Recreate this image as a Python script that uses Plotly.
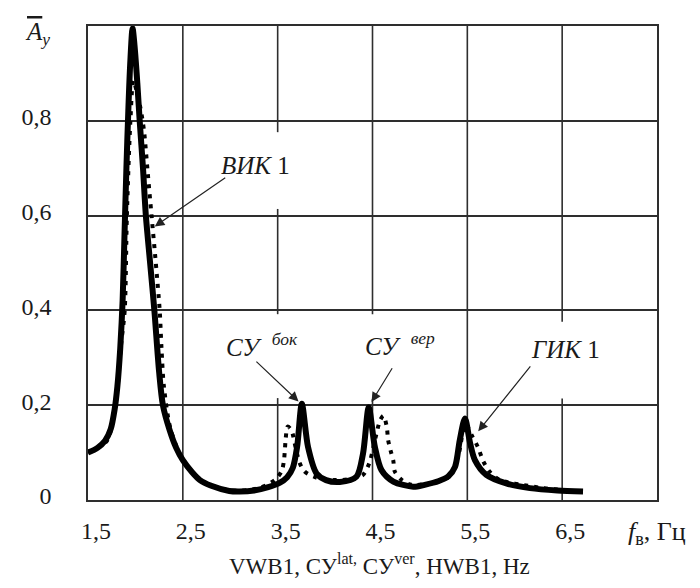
import plotly.graph_objects as go

# ---------------- data ----------------
solid_x = [1.50, 1.60, 1.68, 1.74, 1.78, 1.81, 1.84, 1.865, 1.885, 1.905, 1.925, 1.945, 1.97,
           1.99, 2.02, 2.045, 2.08, 2.11, 2.155, 2.20, 2.25, 2.29, 2.36, 2.43, 2.50, 2.60, 2.68,
           2.80, 2.99, 3.10, 3.25, 3.40, 3.52, 3.60, 3.66, 3.705, 3.755, 3.82, 3.91, 4.01, 4.155,
           4.33, 4.40, 4.46, 4.525, 4.595, 4.72, 4.93, 5.05, 5.20, 5.30, 5.37, 5.42, 5.475, 5.53,
           5.58, 5.70, 5.91, 6.16, 6.45, 6.72]
solid_y = [0.100, 0.110, 0.125, 0.150, 0.190, 0.240, 0.320, 0.420, 0.560, 0.700, 0.820, 0.920, 0.995,
           0.960, 0.880, 0.800, 0.700, 0.600, 0.500, 0.400, 0.270, 0.200, 0.148, 0.110, 0.084, 0.058, 0.042,
           0.030, 0.019, 0.018, 0.020, 0.027, 0.036, 0.048, 0.068, 0.112, 0.203, 0.112, 0.056, 0.042, 0.038,
           0.049, 0.098, 0.195, 0.112, 0.063, 0.039, 0.028, 0.032, 0.040, 0.050, 0.070, 0.126, 0.172, 0.119,
           0.084, 0.053, 0.035, 0.025, 0.020, 0.018]

dot_x = [1.50, 1.70, 1.80, 1.85, 1.887, 1.91, 1.947, 1.978, 2.01, 2.05, 2.09, 2.13, 2.17, 2.215,
         2.256, 2.275, 2.30, 2.37, 2.50, 2.70, 3.00, 3.30, 3.47, 3.54, 3.565, 3.575, 3.585, 3.605,
         3.645, 3.69, 3.73, 3.785, 3.90, 4.10, 4.30, 4.40, 4.47, 4.53, 4.58, 4.615, 4.65, 4.665,
         4.69, 4.72, 4.735, 4.81, 4.91, 5.10, 5.30, 5.40, 5.48, 5.55, 5.61, 5.67, 5.73, 5.81,
         5.93, 6.05, 6.30, 6.60]
dot_y = [0.100, 0.125, 0.220, 0.330, 0.400, 0.600, 0.800, 0.885, 0.865, 0.830, 0.780, 0.690, 0.600, 0.500,
         0.400, 0.320, 0.240, 0.150, 0.085, 0.040, 0.020, 0.025, 0.042, 0.060, 0.081, 0.103, 0.130, 0.155,
         0.147, 0.110, 0.079, 0.060, 0.048, 0.042, 0.045, 0.053, 0.080, 0.130, 0.168, 0.178, 0.155, 0.126,
         0.105, 0.082, 0.060, 0.042, 0.032, 0.035, 0.048, 0.090, 0.160, 0.135, 0.112, 0.081, 0.061, 0.046,
         0.037, 0.033, 0.025, 0.020]

x_tick_vals = [1.5, 2.5, 3.5, 4.5, 5.5, 6.5]
x_tick_text = ["1,5", "2,5", "3,5", "4,5", "5,5", "6,5"]
y_tick_vals = [0, 0.2, 0.4, 0.6, 0.8]
y_tick_text = ["0", "0,2", "0,4", "0,6", "0,8"]

# vertical grid lines (value -> visible segments along y)
v_grid = {
    2.5: [(0, 1)],
    3.5: [(0, 0.215), (0.392, 0.614), (0.776, 1)],
    4.5: [(0, 0.213), (0.392, 1)],
    5.5: [(0, 1)],
    6.5: [(0, 0.214), (0.376, 1)],
}

FONT = "Liberation Serif"
GRID = "#2e2e2e"
TXT = "#1a1a1a"

fig = go.Figure()
fig.add_trace(go.Scatter(x=dot_x, y=dot_y, mode="lines",
                         line=dict(color="black", width=4, dash="4px,6px", shape="spline", smoothing=0.8),
                         hoverinfo="skip", showlegend=False))
fig.add_trace(go.Scatter(x=solid_x, y=solid_y, mode="lines",
                         line=dict(color="black", width=6, shape="spline", smoothing=0.8),
                         hoverinfo="skip", showlegend=False))

shapes = []
for xv, segs in v_grid.items():
    for y0, y1 in segs:
        shapes.append(dict(type="line", xref="x", yref="y", x0=xv, x1=xv, y0=y0, y1=y1,
                           line=dict(color=GRID, width=1.6), layer="below"))

ann = []
# arrows (tip x,y ; tail ax,ay)
arrows = [
    (2.204, 0.577, 2.963, 0.682),
    (3.72, 0.208, 3.26, 0.295),
    (4.49, 0.207, 4.717, 0.281),
    (5.615, 0.145, 6.177, 0.285),
]
for x, y, ax, ay in arrows:
    ann.append(dict(x=x, y=y, ax=ax, ay=ay, xref="x", yref="y", axref="x", ayref="y",
                    text="", showarrow=True, arrowhead=2, arrowsize=1.6, arrowwidth=1.2,
                    arrowcolor="#222"))

labels = [
    (3.27, 0.706, "<i>ВИК</i> 1"),
    (3.34, 0.326, "<i>СУ</i>  <sup><i>бок</i></sup>"),
    (4.79, 0.329, "<i>СУ</i>  <sup><i>вер</i></sup>"),
    (6.54, 0.318, "<i>ГИК</i> 1"),
]
for x, y, t in labels:
    ann.append(dict(x=x, y=y, xref="x", yref="y", text=t, showarrow=False,
                    xanchor="center", yanchor="middle",
                    font=dict(family=FONT, size=25, color=TXT)))

ann.append(dict(x=0.946, y=-0.07, xref="paper", yref="paper", xanchor="left", yanchor="middle",
                text="<i>f</i><sub>в</sub>, Гц", showarrow=False,
                font=dict(family=FONT, size=26, color=TXT)))
ann.append(dict(x=-0.088, y=0.985, xref="paper", yref="paper", xanchor="center", yanchor="middle",
                text='<span style="text-decoration:overline"><i>A</i></span><sub><i>y</i></sub>',
                showarrow=False, font=dict(family=FONT, size=25, color=TXT)))
ann.append(dict(x=0.512, y=-0.137, xref="paper", yref="paper", xanchor="center", yanchor="middle",
                text="VWB1, СУ<sup>lat,</sup> СУ<sup>ver</sup>, HWB1, Hz", showarrow=False,
                font=dict(family=FONT, size=23, color=TXT)))

# the page adds an 8px body margin, so the figure is 8px smaller and margins compensate
fig.update_layout(
    width=692, height=580,
    margin=dict(l=80, r=43, t=18, b=88, autoexpand=False),
    paper_bgcolor="white", plot_bgcolor="white",
    font=dict(family=FONT, size=24, color=TXT),
    shapes=shapes, annotations=ann,
    xaxis=dict(range=[1.5, 7.5], tickvals=x_tick_vals, ticktext=x_tick_text,
               showgrid=False, zeroline=False, showline=True, mirror=True, automargin=False,
               linecolor=GRID, linewidth=1.6, ticks="", ticklabelstandoff=8, ticklabelshift=8,
               tickfont=dict(family=FONT, size=24, color=TXT)),
    yaxis=dict(range=[0, 1.0], tickvals=y_tick_vals, ticktext=y_tick_text,
               showgrid=True, gridcolor=GRID, gridwidth=1.6, zeroline=False, automargin=False,
               showline=True, mirror=True, linecolor=GRID, linewidth=1.6,
               ticks="", ticklabelstandoff=30, ticklabelshift=-4,
               tickfont=dict(family=FONT, size=24, color=TXT)),
)

fig.write_html("out.html")
